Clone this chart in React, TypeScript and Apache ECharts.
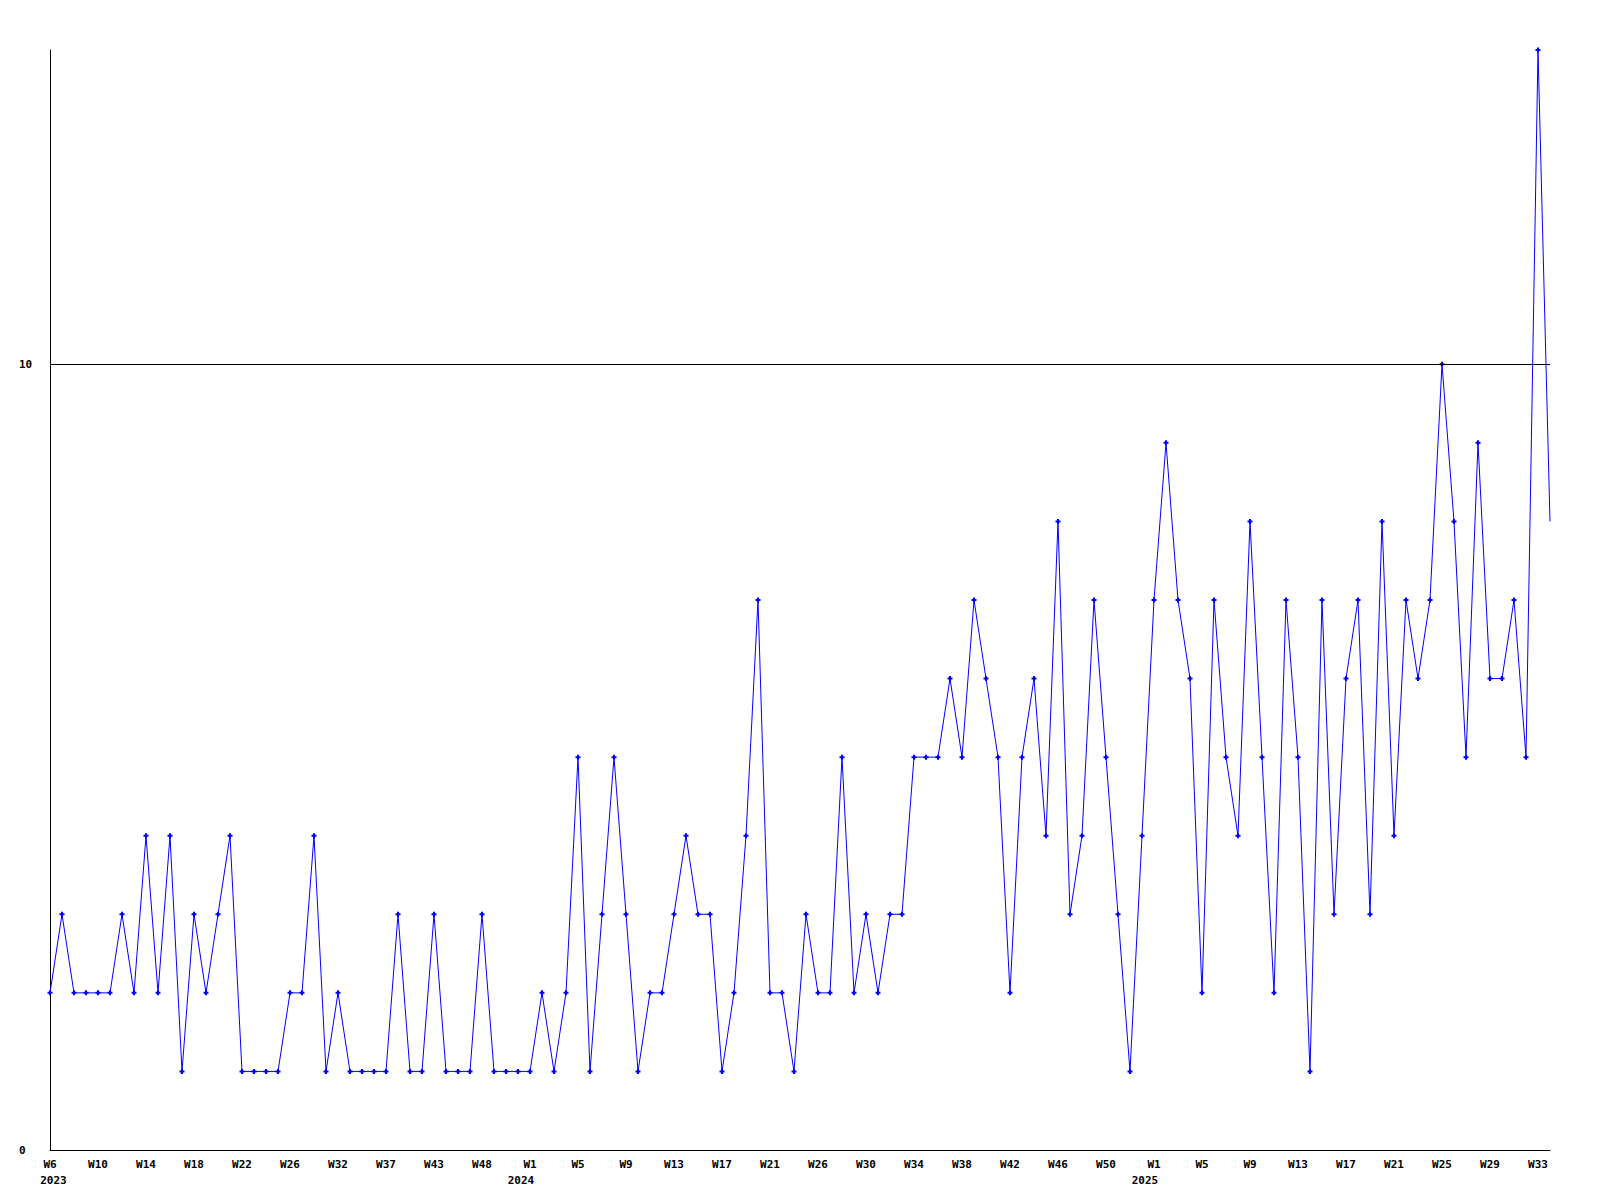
import React, { useEffect, useRef } from "react";
import * as echarts from "echarts";

// Tick labels shown every 4th point on the x axis (week, optional year)
const weekTicks = [
  "W6", "W10", "W14", "W18", "W22", "W26", "W32", "W37", "W43", "W48",
  "W1", "W5", "W9", "W13", "W17", "W21", "W26", "W30", "W34", "W38", "W42", "W46", "W50",
  "W1", "W5", "W9", "W13", "W17", "W21", "W25", "W29", "W33",
];
const yearTicks: Record<number, string> = { 0: "2023", 10: "2024", 23: "2025" };

// Weekly counts (one point per week in the data)
const counts = [
  2, 3, 2, 2, 2, 2, 3, 2, 4, 2,
  4, 1, 3, 2, 3, 4, 1, 1, 1, 1,
  2, 2, 4, 1, 2, 1, 1, 1, 1, 3,
  1, 1, 3, 1, 1, 1, 3, 1, 1, 1,
  1, 2, 1, 2, 5, 1, 3, 5, 3, 1,
  2, 2, 3, 4, 3, 3, 1, 2, 4, 7,
  2, 2, 1, 3, 2, 2, 5, 2, 3, 2,
  3, 3, 5, 5, 5, 6, 5, 7, 6, 5,
  2, 5, 6, 4, 8, 3, 4, 7, 5, 3,
  1, 4, 7, 9, 7, 6, 2, 7, 5, 4,
  8, 5, 2, 7, 5, 1, 7, 3, 6, 7,
  3, 8, 4, 7, 6, 7, 10, 8, 5, 9,
  6, 6, 7, 5, 14, 8,
];

const yLabels = [0, 10];
const gridValue = 10;

const FONT = "'DejaVu Sans Mono', 'Liberation Mono', monospace";

export default function App() {
  const ref = useRef<HTMLDivElement>(null);

  useEffect(() => {
    if (!ref.current) return;
    const chart = echarts.init(ref.current, null, { renderer: "svg" });
    const categories = counts.map((_, i) => String(i));
    const data = counts.map((v, i) =>
      i === counts.length - 1 ? { value: v, symbol: "none" } : v
    );
    const textStyle = {
      color: "#000",
      fontFamily: FONT,
      fontWeight: "bold",
      fontSize: 11,
      lineHeight: 16,
    };
    chart.setOption({
      animation: false,
      backgroundColor: "#ffffff",
      grid: { left: 50, right: 50, top: 50, bottom: 50, containLabel: false },
      xAxis: {
        type: "category",
        data: categories,
        boundaryGap: false,
        axisLine: { show: true, lineStyle: { color: "#000", width: 1 } },
        axisTick: { show: false },
        splitLine: { show: false },
        axisLabel: {
          interval: 3,
          margin: 6,
          ...textStyle,
          rich: {
            w: { ...textStyle },
            yFirst: { ...textStyle, padding: [0, 0, 0, 7] },
            y: { ...textStyle, padding: [0, 18, 0, 0] },
          },
          formatter: (_v: string, idx: number) => {
            if (idx % 4 !== 0) return "";
            const k = idx / 4;
            const w = weekTicks[k];
            if (!w) return "";
            const yr = yearTicks[k];
            if (!yr) return `{w|${w}}`;
            return `{w|${w}}\n{${k === 0 ? "yFirst" : "y"}|${yr}}`;
          },
        },
      },
      yAxis: {
        type: "value",
        min: 0,
        max: 14,
        interval: 10,
        axisLine: { show: true, lineStyle: { color: "#000", width: 1 } },
        axisTick: { show: false },
        splitLine: { show: false },
        axisLabel: {
          margin: 31,
          align: "left",
          color: "#000",
          fontFamily: FONT,
          fontWeight: "bold",
          fontSize: 11,
          showMaxLabel: false,
          formatter: (v: number) => (yLabels.includes(v) ? String(v) : ""),
        },
      },
      series: [
        {
          type: "line",
          data,
          showAllSymbol: true,
          symbol: "path://M1.5,0H3.5V1.5H5V3.5H3.5V5H1.5V3.5H0V1.5H1.5Z",
          symbolSize: 5,
          lineStyle: { color: "#0000ff", width: 1 },
          itemStyle: { color: "#0000ff" },
          markLine: {
            silent: true,
            symbol: ["none", "none"],
            label: { show: false },
            lineStyle: { color: "#000", width: 1, type: "solid" },
            data: [{ yAxis: gridValue }],
          },
        },
      ],
    });
    return () => chart.dispose();
  }, []);

  return (
    <div
      ref={ref}
      style={{ position: "fixed", left: 0, top: 0, width: 1600, height: 1200, background: "#fff" }}
    />
  );
}
